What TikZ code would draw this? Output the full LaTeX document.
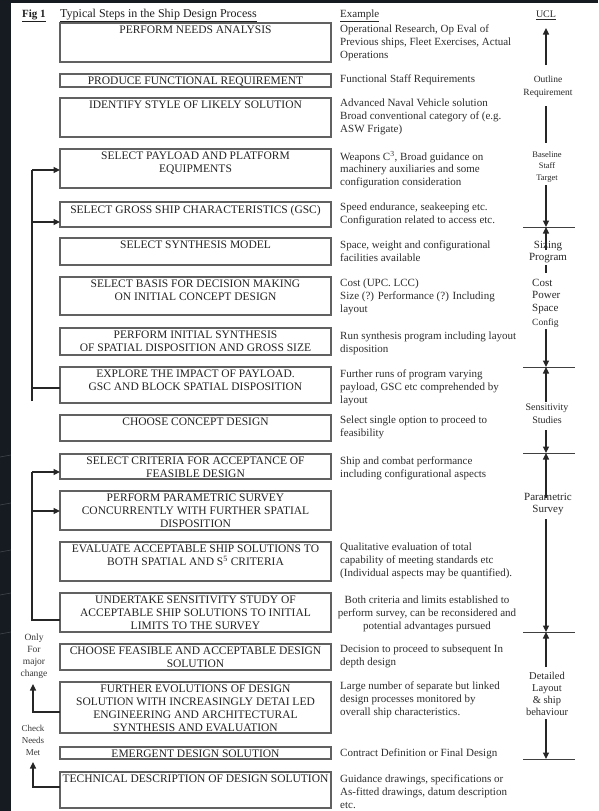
\documentclass[tikz,border=0pt]{standalone}
\usepackage{fontspec}
\setmainfont{Liberation Serif}
\usetikzlibrary{arrows.meta}
\definecolor{darkside}{HTML}{161B22}

% one process step: name, top edge, bottom edge, caption
\newcommand\designstep[4]{%
  \node[stepbox, minimum height={#3-#2}] (#1) at (60,#2) {};
  \node[steptext] (#1-t) at (195.5,#2+3) {#4};
}
% one example entry: name, first-line centre, text
\newcommand\examplenote[3]{%
  \node[extext] (#1) at (340,#2-5) {#3};
}

\begin{document}
\begin{tikzpicture}[x=1pt,y=-1pt,
  stepbox/.style={draw=black!62, line width=1.2pt, inner sep=0pt, outer sep=0pt,
                  minimum width=271pt, anchor=north west},
  steptext/.style={font=\fontsize{11.5}{13}\selectfont, align=center, text=black!86,
                   inner sep=0pt, anchor=north},
  extext/.style={font=\fontsize{11}{12.7}\selectfont, align=left, text=black!82,
                 inner sep=0pt, anchor=north west},
  ucl/.style={align=center, text=black!84, inner sep=0pt, anchor=north},
  sidenote/.style={align=center, text=black!78, inner sep=0pt, anchor=north},
  link/.style={draw=black!85, line width=1.1pt},
  tip/.style={-{Triangle[length=6.5pt,width=6pt]}},
  scale line/.style={draw=black!75, line width=0.9pt},
]
\useasboundingbox (0,0) rectangle (598,811);
\fill[white] (0,0) rectangle (598,811);
\fill[darkside] (0,0) rectangle (11,811);
\fill[darkside] (0,0) rectangle (598,3);
\foreach \yy in {455,503,550,593,632}
  \draw[white, opacity=0.18, line width=0.6pt] (0,\yy+2) -- (11,\yy);

% headings
\node[font=\bfseries\fontsize{11}{13}\selectfont, anchor=base west, inner sep=0pt, text=black!88]
  (fig) at (22,17.5) {\underline{Fig 1}};
\node[font=\fontsize{12}{14}\selectfont, anchor=base west, inner sep=0pt, text=black!88]
  (title) at (60,17.5) {\underline{Typical Steps in the Ship Design Process}};
\node[font=\fontsize{11}{13}\selectfont, anchor=base west, inner sep=0pt, text=black!84]
  (exhead) at (340,17.5) {\underline{Example}};
\node[font=\fontsize{10}{12}\selectfont, anchor=base, inner sep=0pt, text=black!84]
  (uclhead) at (546,17.5) {\underline{UCL}};

% process steps
\designstep{s1}{23}{62}{PERFORM NEEDS ANALYSIS}
\designstep{s2}{74}{87}{PRODUCE FUNCTIONAL REQUIREMENT}
\designstep{s3}{98}{137}{IDENTIFY STYLE OF LIKELY SOLUTION}
\designstep{s4}{149}{188}{SELECT PAYLOAD AND PLATFORM\\EQUIPMENTS}
\designstep{s5}{202}{227}{SELECT GROSS SHIP CHARACTERISTICS (GSC)}
\designstep{s6}{238}{265}{SELECT SYNTHESIS MODEL}
\designstep{s7}{277}{315}{SELECT BASIS FOR DECISION MAKING\\ON INITIAL CONCEPT DESIGN}
\designstep{s8}{328}{355}{PERFORM INITIAL SYNTHESIS\\OF SPATIAL DISPOSITION AND GROSS SIZE}
\designstep{s9}{367}{403}{EXPLORE THE IMPACT OF PAYLOAD.\\GSC AND BLOCK SPATIAL DISPOSITION}
\designstep{s10}{415}{441}{CHOOSE CONCEPT DESIGN}
\designstep{s11}{454}{479}{SELECT CRITERIA FOR ACCEPTANCE OF\\FEASIBLE DESIGN}
\designstep{s12}{491}{530}{PERFORM PARAMETRIC SURVEY\\CONCURRENTLY WITH FURTHER SPATIAL\\DISPOSITION}
\designstep{s13}{542}{581}{EVALUATE ACCEPTABLE SHIP SOLUTIONS TO\\BOTH SPATIAL AND S\textsuperscript{5} CRITERIA}
\designstep{s14}{593}{632}{UNDERTAKE SENSITIVITY STUDY OF\\ACCEPTABLE SHIP SOLUTIONS TO INITIAL\\LIMITS TO THE SURVEY}
\designstep{s15}{644}{670}{CHOOSE FEASIBLE AND ACCEPTABLE DESIGN\\SOLUTION}
\designstep{s16}{682}{733}{FURTHER EVOLUTIONS OF DESIGN\\SOLUTION WITH INCREASINGLY DETAI LED\\ENGINEERING AND ARCHITECTURAL\\SYNTHESIS AND EVALUATION}
\designstep{s17}{747}{759}{EMERGENT DESIGN SOLUTION}
\designstep{s18}{772}{808}{TECHNICAL DESCRIPTION OF DESIGN SOLUTION}

% examples
\examplenote{e1}{30}{Operational Research, Op Eval of\\Previous ships, Fleet Exercises, Actual\\Operations}
\examplenote{e2}{80}{Functional Staff Requirements}
\examplenote{e3}{104}{Advanced Naval Vehicle solution\\Broad conventional category of (e.g.\\ASW Frigate)}
\examplenote{e4}{156}{Weapons C\textsuperscript{3}, Broad guidance on\\machinery auxiliaries and some\\configuration consideration}
\examplenote{e5}{208}{Speed endurance, seakeeping etc.\\Configuration related to access etc.}
\examplenote{e6}{246}{Space, weight and configurational\\facilities available}
\examplenote{e7}{284}{Cost (UPC. LCC)\\Size (?) Performance (?) Including\\layout}
\examplenote{e8}{337}{Run synthesis program including layout\\disposition}
\examplenote{e9}{375}{Further runs of program varying\\payload, GSC etc comprehended by\\layout}
\examplenote{e10}{421}{Select single option to proceed to\\feasibility}
\examplenote{e11}{462}{Ship and combat performance\\including configurational aspects}
\examplenote{e13}{548}{Qualitative evaluation of total\\capability of meeting standards etc\\(Individual aspects may be quantified).}
\node[extext, align=center, anchor=north] (e14) at (427,596)
  {Both criteria and limits established to\\perform survey, can be reconsidered and\\potential advantages pursued};
\examplenote{e15}{650}{Decision to proceed to subsequent In\\depth design}
\examplenote{e16}{687}{Large number of separate but linked\\design processes monitored by\\overall ship characteristics.}
\examplenote{e17}{754}{Contract Definition or Final Design}
\examplenote{e18}{780}{Guidance drawings, specifications or\\As-fitted drawings, datum description\\etc.}

% feedback loop over the concept phase
\coordinate (ja-top) at (32,170);
\coordinate (ja-mid) at (32,222);
\coordinate (ja-bot) at (32,401);
\coordinate (ja-in) at (32,388);
\draw[link] (ja-bot) -- (ja-top);
\draw[link] (ja-in -| s9.west) -- (ja-in);
\draw[link, tip] (ja-top) -- (ja-top -| s4.west);
\draw[link, tip] (ja-mid) -- (ja-mid -| s5.west);

% feedback loop over the feasibility phase
\coordinate (jb-top) at (32,472);
\coordinate (jb-mid) at (32,511);
\coordinate (jb-bot) at (32,621);
\coordinate (jb-in) at (32,620);
\draw[link] (jb-bot) -- (jb-top);
\draw[link] (jb-in -| s14.west) -- (jb-in);
\draw[link, tip] (jb-top) -- (jb-top -| s11.west);
\draw[link, tip] (jb-mid) -- (jb-mid -| s12.west);

% return paths for major change and needs check
\node[sidenote, font=\fontsize{9.5}{12}\selectfont] (major) at (34,633.5) {Only\\For\\major\\change};
\coordinate (ka-corner) at (33,712);
\coordinate (ka-tip) at (33,684);
\draw[link, tip] (ka-corner -| s16.west) -- (ka-corner) -- (ka-tip);
\node[sidenote, font=\fontsize{9}{12}\selectfont] (needs) at (33,725) {Check\\Needs\\Met};
\coordinate (kb-corner) at (33,787);
\coordinate (kb-tip) at (33,762);
\draw[link, tip] (kb-corner -| s18.west) -- (kb-corner) -- (kb-tip);

% UCL design stages
\coordinate (u-a1) at (546,65);   \coordinate (u-a0) at (546,28);
\draw[link, tip] (u-a1) -- (u-a0);
\node[ucl, font=\fontsize{9.5}{13}\selectfont] (outline) at (548,75.5) {Outline\\Requirement};
\coordinate (u-b0) at (546,106);  \coordinate (u-b1) at (546,143);
\draw[link] (u-b0) -- (u-b1);
\node[ucl, font=\fontsize{8.5}{11.5}\selectfont] (baseline) at (547,151) {Baseline\\Staff\\Target};

\coordinate (h1) at (546,227);
\draw[scale line] ([xshift=-23pt]h1) -- ([xshift=29pt]h1);
\coordinate (u-c0) at (546,185);
\draw[link, tip] (u-c0) -- (h1);
\coordinate (u-d0) at (546,250);
\draw[link, tip] (u-d0) -- (h1);
\node[ucl, font=\fontsize{11}{12}\selectfont] (sizing) at (548,241) {Sizing\\Program};
\coordinate (u-e0) at (546,265); \coordinate (u-e1) at (546,273);
\draw[link] (u-e0) -- (u-e1);
\node[ucl, anchor=north west, align=left, font=\fontsize{11}{12.5}\selectfont] (cps) at (532,279) {Cost\\Power\\Space};
\node[ucl, anchor=north west, align=left, font=\fontsize{9.5}{12}\selectfont] (config) at (532,319) {Config};

\coordinate (h2) at (546,367);
\draw[scale line] ([xshift=-23pt]h2) -- ([xshift=29pt]h2);
\coordinate (u-f0) at (546,329);
\draw[link, tip] (u-f0) -- (h2);
\coordinate (u-g0) at (546,402);
\draw[link, tip] (u-g0) -- (h2);
\node[ucl, font=\fontsize{10}{13}\selectfont] (sens) at (547,403.5) {Sensitivity\\Studies};

\coordinate (h3) at (546,453);
\draw[scale line] ([xshift=-23pt]h3) -- ([xshift=29pt]h3);
\coordinate (u-h0) at (546,430);
\draw[link, tip] (u-h0) -- (h3);
\coordinate (u-i0) at (546,498);
\draw[link, tip] (u-i0) -- (h3);
\node[ucl, font=\fontsize{11}{12.5}\selectfont] (param) at (548,493) {Parametric\\Survey};

\coordinate (h4) at (546,632);
\draw[scale line] ([xshift=-23pt]h4) -- ([xshift=29pt]h4);
\coordinate (u-j0) at (546,519);
\draw[link, tip] (u-j0) -- (h4);
\coordinate (u-k0) at (546,667);
\draw[link, tip] (u-k0) -- (h4);
\node[ucl, font=\fontsize{10.5}{12}\selectfont] (detail) at (547,672) {Detailed\\Layout\\\& ship\\behaviour};

\coordinate (h5) at (546,759);
\draw[scale line] ([xshift=-23pt]h5) -- ([xshift=29pt]h5);
\coordinate (u-l0) at (546,719);
\draw[link, tip] (u-l0) -- (h5);
\end{tikzpicture}
\end{document}
